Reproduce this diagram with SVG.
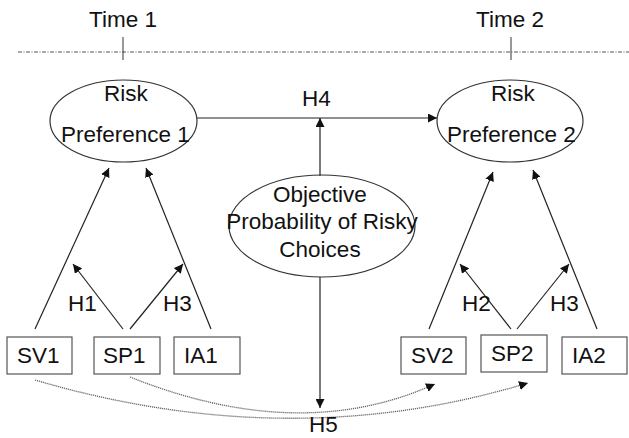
<svg xmlns="http://www.w3.org/2000/svg" width="629" height="438" viewBox="0 0 629 438">
<style>
text{font-family:"Liberation Sans",Arial,sans-serif;font-size:22.5px;fill:#111}
.n{fill:none;stroke:#333;stroke-width:1.2}
.b{fill:#fff;stroke:#555;stroke-width:1.2}
.a{fill:none;stroke:#222;stroke-width:1.2;marker-end:url(#ah)}
.d{fill:none;stroke:#666;stroke-width:1.3;stroke-dasharray:1.2,0.8;marker-end:url(#ah)}
</style>
<defs>
<marker id="ah" viewBox="0 0 10 10" refX="10" refY="5" markerWidth="9" markerHeight="9" markerUnits="userSpaceOnUse" orient="auto">
<path d="M0,0 L10,5 L0,10 z" fill="#111"/>
</marker>
</defs>
<g id="timeline">
<line x1="18" y1="52" x2="629" y2="52" stroke="#555" stroke-width="1" stroke-dasharray="4,1.5,1,1.5"/>
<line x1="123" y1="37" x2="123" y2="60" stroke="#333" stroke-width="1"/>
<line x1="511" y1="37" x2="511" y2="60" stroke="#333" stroke-width="1"/>
<text x="89" y="27">Time 1</text>
<text x="476" y="27">Time 2</text>
</g>
<g id="connectors">
<line class="a" x1="197" y1="118" x2="437" y2="118"/>
<line class="a" x1="320" y1="176" x2="320" y2="118"/>
<line class="a" x1="320" y1="277" x2="320" y2="408"/>
<line class="a" x1="35" y1="329" x2="109" y2="168"/>
<line class="a" x1="211" y1="329" x2="146" y2="168"/>
<line class="a" x1="123" y1="329" x2="73" y2="264"/>
<line class="a" x1="130" y1="329" x2="183" y2="264"/>
<line class="a" x1="429" y1="329" x2="493" y2="172"/>
<line class="a" x1="597" y1="329" x2="533" y2="170"/>
<line class="a" x1="511" y1="329" x2="460" y2="264"/>
<line class="a" x1="517" y1="329" x2="569" y2="264"/>
<path class="d" d="M35,380 Q290,455 528,383"/>
<path class="d" d="M130,377 Q300,445 435,384"/>
<text x="302" y="106">H4</text>
<text x="68" y="311">H1</text>
<text x="163" y="311">H3</text>
<text x="462" y="311">H2</text>
<text x="550" y="311">H3</text>
<text x="309" y="432">H5</text>
</g>
<g id="rp1">
<ellipse class="n" cx="123.5" cy="121" rx="73.5" ry="41"/>
<text x="104" y="101">Risk</text>
<text x="61" y="142">Preference 1</text>
</g>
<g id="rp2">
<ellipse class="n" cx="510" cy="121" rx="73" ry="41"/>
<text x="491" y="101">Risk</text>
<text x="447" y="142">Preference 2</text>
</g>
<g id="objective">
<ellipse class="n" cx="322" cy="226" rx="93" ry="51"/>
<text x="320" y="202" text-anchor="middle">Objective</text>
<text x="322" y="229" text-anchor="middle">Probability of Risky</text>
<text x="320" y="257" text-anchor="middle">Choices</text>
</g>
<g id="sv1"><rect class="b" x="7" y="337" width="65" height="37"/><text x="17" y="363">SV1</text></g>
<g id="sp1"><rect class="b" x="94" y="337" width="66" height="37"/><text x="103" y="363">SP1</text></g>
<g id="ia1"><rect class="b" x="174" y="337" width="66" height="37"/><text x="184" y="363">IA1</text></g>
<g id="sv2"><rect class="b" x="401" y="337" width="65" height="37"/><text x="411" y="363">SV2</text></g>
<g id="sp2"><rect class="b" x="481" y="335" width="66" height="37"/><text x="491" y="361">SP2</text></g>
<g id="ia2"><rect class="b" x="562" y="337" width="65" height="37"/><text x="572" y="363">IA2</text></g>
</svg>
